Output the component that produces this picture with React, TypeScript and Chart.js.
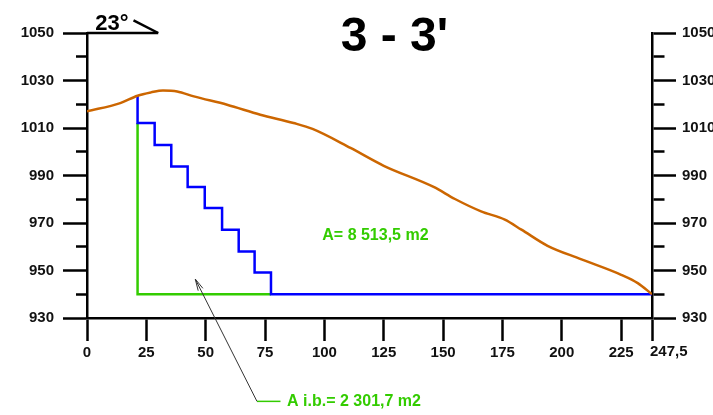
import { useEffect, useRef } from "react";
import { Chart, registerables } from "chart.js";

Chart.register(...registerables);

// ---- data ----
const terrainX = [0, 14, 21.3, 27, 32, 38, 45, 59, 73, 87, 95, 111, 125, 146, 155, 166, 176, 183, 194, 208, 225, 232, 238];
const terrainY = [1017, 1020.5, 1023.6, 1025, 1025.8, 1025.4, 1023.3, 1019.8, 1015.6, 1012.1, 1009.6, 1001.6, 994.1, 985.2, 980.1, 974.9, 971.4, 967.2, 960.4, 954.8, 948.2, 944.7, 940];

const stepX = [21.3, 28.5, 35.5, 42.4, 49.6, 56.9, 63.9, 70.6, 77.5, 238];
const stepY = [1023.6, 1012.1, 1002.8, 993.8, 985.2, 976.3, 967.2, 958.0, 949.2, 940];

const greenX = [21.3, 21.3, 77.5];
const greenY = [1012.1, 940, 940];

const xTickValues = [0, 25, 50, 75, 100, 125, 150, 175, 200, 225, 238];
const xTickLabels = ["0", "25", "50", "75", "100", "125", "150", "175", "200", "225", "247,5"];

const yMin = 930;
const yMax = 1050;
const yStep = 10;
const yMajorStep = 20;

const titleText = "3 - 3'";
const angleText = "23°";
const areaText = "A= 8 513,5 m2";
const ibText = "A i.b.= 2 301,7 m2";

// ---- styles / placement ----
const FONT = "'Liberation Sans', Arial, Helvetica, sans-serif";
const ORANGE = "#CC6600";
const BLUE = "#0000FF";
const GREEN = "#33CC00";
const AXIS = "#000000";
const TICK_TEXT = "#111";

const place = {
  title: { x: 129.5, y: 1042.3 },
  angleText: { x: 3.5, y: 1051.1 },
  angleLineStart: { x: 0, y: 1050 },
  angleLineEnd: { x: 30, y: 1050 },
  angleDiagStart: { x: 19.6, y: 1055.3 },
  area: { x: 121.5, y: 964.8 },
  ib: { x: 84.3, y: 894.9 },
  leaderStart: { x: 71.6, y: 894.9 },
  leaderEnd: { x: 81.5, y: 894.9 },
  arrowTip: { x: 45.6, y: 946.4 },
};

const toPts = (xs: number[], ys: number[]) => xs.map((x, i) => ({ x, y: ys[i] }));
const lastIdx = xTickValues.length - 1;

const annotationPlugin = {
  id: "annotations",
  afterDraw(chart: any) {
    const { ctx } = chart;
    const xs = chart.scales.x;
    const ys = chart.scales.y;
    const px = (v: number) => xs.getPixelForValue(v);
    const py = (v: number) => ys.getPixelForValue(v);
    ctx.save();

    // last x tick label, drawn starting at its tick
    ctx.fillStyle = TICK_TEXT;
    ctx.font = `bold 15px ${FONT}`;
    ctx.textAlign = "left";
    ctx.textBaseline = "top";
    ctx.fillText(xTickLabels[lastIdx], px(xTickValues[lastIdx]) - 2, xs.top + 23 + 3);

    // title
    ctx.fillStyle = "#000";
    ctx.font = `bold 48px ${FONT}`;
    ctx.textAlign = "center";
    ctx.textBaseline = "alphabetic";
    ctx.fillText(titleText, px(place.title.x), py(place.title.y));

    // angle marker
    ctx.font = `bold 22px ${FONT}`;
    ctx.textAlign = "left";
    ctx.fillText(angleText, px(place.angleText.x), py(place.angleText.y));
    ctx.strokeStyle = AXIS;
    ctx.lineWidth = 2.5;
    ctx.beginPath();
    ctx.moveTo(px(place.angleLineStart.x), py(place.angleLineStart.y));
    ctx.lineTo(px(place.angleLineEnd.x), py(place.angleLineEnd.y));
    ctx.stroke();
    ctx.beginPath();
    ctx.moveTo(px(place.angleDiagStart.x), py(place.angleDiagStart.y));
    ctx.lineTo(px(place.angleLineEnd.x), py(place.angleLineEnd.y));
    ctx.stroke();

    // area label
    ctx.fillStyle = GREEN;
    ctx.font = `bold 16px ${FONT}`;
    ctx.textAlign = "center";
    ctx.textBaseline = "middle";
    ctx.fillText(areaText, px(place.area.x), py(place.area.y));

    // ib label
    ctx.textAlign = "left";
    ctx.fillText(ibText, px(place.ib.x), py(place.ib.y));

    // leader
    ctx.strokeStyle = GREEN;
    ctx.lineWidth = 1.5;
    ctx.beginPath();
    ctx.moveTo(px(place.leaderStart.x), py(place.leaderStart.y));
    ctx.lineTo(px(place.leaderEnd.x), py(place.leaderEnd.y));
    ctx.stroke();

    // arrow
    const sx = px(place.leaderStart.x);
    const sy = py(place.leaderStart.y);
    const tx = px(place.arrowTip.x);
    const tyy = py(place.arrowTip.y);
    ctx.strokeStyle = "#333";
    ctx.lineWidth = 1;
    ctx.beginPath();
    ctx.moveTo(sx, sy);
    ctx.lineTo(tx, tyy);
    ctx.stroke();
    const ang = Math.atan2(sy - tyy, sx - tx);
    const hl = 12;
    ctx.beginPath();
    ctx.moveTo(tx + hl * Math.cos(ang - 0.22), tyy + hl * Math.sin(ang - 0.22));
    ctx.lineTo(tx, tyy);
    ctx.lineTo(tx + hl * Math.cos(ang + 0.22), tyy + hl * Math.sin(ang + 0.22));
    ctx.stroke();

    ctx.restore();
  },
};

const isMajor = (v: number) => Math.round(v - yMin) % yMajorStep === 0;

export default function App() {
  const ref = useRef<HTMLCanvasElement | null>(null);

  useEffect(() => {
    if (!ref.current) return;
    const tickFont = { family: FONT, size: 15, weight: "bold" as const };
    const chart = new Chart(ref.current, {
      type: "line",
      data: {
        datasets: [
          {
            data: toPts(terrainX, terrainY),
            borderColor: ORANGE,
            borderWidth: 2.5,
            pointRadius: 0,
            cubicInterpolationMode: "monotone",
            fill: false,
          },
          {
            data: toPts(stepX, stepY),
            borderColor: BLUE,
            borderWidth: 2.5,
            pointRadius: 0,
            stepped: "after",
            fill: false,
          },
          {
            data: toPts(greenX, greenY),
            borderColor: GREEN,
            borderWidth: 2.5,
            pointRadius: 0,
            fill: false,
          },
        ],
      },
      options: {
        animation: false,
        responsive: true,
        maintainAspectRatio: false,
        layout: { padding: { top: 33, left: 0, right: 0, bottom: 0 } },
        plugins: { legend: { display: false }, tooltip: { enabled: false }, title: { display: false } },
        scales: {
          x: {
            type: "linear",
            position: "bottom",
            min: 0,
            max: xTickValues[lastIdx],
            afterBuildTicks: (s: any) => {
              s.ticks = xTickValues.map((v) => ({ value: v }));
            },
            afterFit: (s: any) => {
              s.height = 97;
            },
            border: { display: true, color: AXIS, width: 2.5 },
            grid: { drawOnChartArea: false, drawTicks: true, tickLength: 23, tickWidth: 2.5, tickColor: AXIS },
            ticks: {
              autoSkip: false,
              maxRotation: 0,
              color: TICK_TEXT,
              font: tickFont,
              padding: 3,
              callback: (_v: any, i: number) => (i === lastIdx ? "" : xTickLabels[i]),
            },
          },
          y: {
            type: "linear",
            position: "left",
            min: yMin,
            max: yMax,
            afterFit: (s: any) => {
              s.width = 87;
            },
            border: { display: true, color: AXIS, width: 2.5 },
            grid: {
              drawOnChartArea: false,
              drawTicks: true,
              tickLength: 24,
              tickWidth: 2.5,
              tickColor: AXIS,
              tickBorderDash: (c: any) => (c.tick && isMajor(c.tick.value) ? [] : [0, 13, 60]),
            },
            ticks: {
              stepSize: yStep,
              autoSkip: false,
              color: TICK_TEXT,
              font: tickFont,
              padding: 9,
              callback: (v: any) => (isMajor(Number(v)) ? String(v) : ""),
            },
          },
          y2: {
            type: "linear",
            position: "right",
            min: yMin,
            max: yMax,
            afterFit: (s: any) => {
              s.width = 61;
            },
            border: { display: true, color: AXIS, width: 2.5 },
            grid: {
              drawOnChartArea: false,
              drawTicks: true,
              tickLength: 24,
              tickWidth: 2.5,
              tickColor: AXIS,
              tickBorderDash: (c: any) => (c.tick && isMajor(c.tick.value) ? [] : [11, 60]),
            },
            ticks: {
              stepSize: yStep,
              autoSkip: false,
              color: TICK_TEXT,
              font: tickFont,
              padding: 6,
              callback: (v: any) => (isMajor(Number(v)) ? String(v) : ""),
            },
          },
        },
      } as any,
      plugins: [annotationPlugin],
    });
    return () => chart.destroy();
  }, []);

  return (
    <div style={{ position: "fixed", left: 0, top: 0, width: 713, height: 415, background: "#fff" }}>
      <canvas ref={ref} />
    </div>
  );
}
